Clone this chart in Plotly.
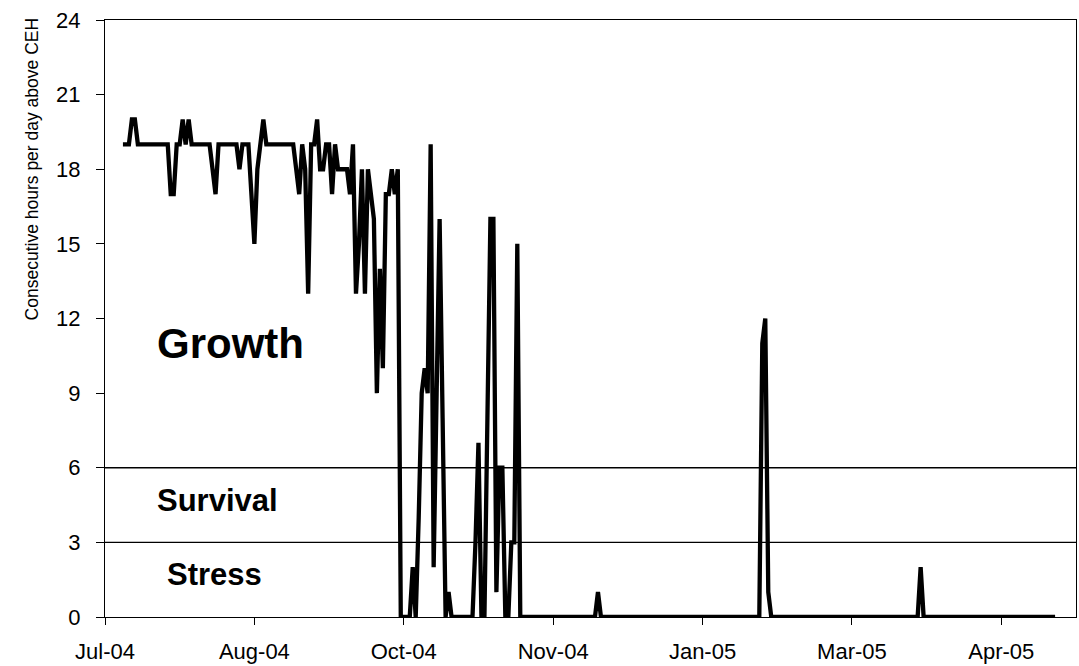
import pandas as pd
import plotly.graph_objects as go

# Daily series: consecutive hours per day above CEH, first reading 7 Jul 2004
start_date = "2004-07-07"
hours = [
    19, 19, 19, 20, 20, 19, 19, 19, 19, 19,
    19, 19, 19, 19, 19, 19, 17, 17, 19, 19,
    20, 19, 20, 19, 19, 19, 19, 19, 19, 19,
    18, 17, 19, 19, 19, 19, 19, 19, 19, 18,
    19, 19, 19, 17, 15, 18, 19, 20, 19, 19,
    19, 19, 19, 19, 19, 19, 19, 19, 18, 17,
    19, 18, 13, 19, 19, 20, 18, 18, 19, 19,
    17, 19, 18, 18, 18, 18, 17, 19, 13, 15,
    18, 13, 18, 17, 16, 9, 14, 10, 17, 17,
    18, 17, 18, 0, 0, 0, 0, 2, 0, 4,
    9, 10, 9, 19, 2, 9, 16, 8, 0, 1,
    0, 0, 0, 0, 0, 0, 0, 0, 3, 7,
    0, 0, 8, 16, 16, 1, 6, 6, 0, 0,
    3, 3, 15, 0, 0, 0, 0, 0, 0, 0,
    0, 0, 0, 0, 0, 0, 0, 0, 0, 0,
    0, 0, 0, 0, 0, 0, 0, 0, 0, 1,
    0, 0, 0, 0, 0, 0, 0, 0, 0, 0,
    0, 0, 0, 0, 0, 0, 0, 0, 0, 0,
    0, 0, 0, 0, 0, 0, 0, 0, 0, 0,
    0, 0, 0, 0, 0, 0, 0, 0, 0, 0,
    0, 0, 0, 0, 0, 0, 0, 0, 0, 0,
    0, 0, 0, 0, 11, 12, 1, 0, 0, 0,
    0, 0, 0, 0, 0, 0, 0, 0, 0, 0,
    0, 0, 0, 0, 0, 0, 0, 0, 0, 0,
    0, 0, 0, 0, 0, 0, 0, 0, 0, 0,
    0, 0, 0, 0, 0, 0, 0, 0, 0, 0,
    0, 0, 0, 0, 0, 0, 0, 2, 0, 0,
    0, 0, 0, 0, 0, 0, 0, 0, 0, 0,
    0, 0, 0, 0, 0, 0, 0, 0, 0, 0,
    0, 0, 0, 0, 0, 0, 0, 0, 0, 0,
    0, 0, 0, 0, 0, 0, 0, 0, 0, 0,
    0, 0, 0,
]
dates = pd.date_range(start_date, periods=len(hours), freq="D")

# Threshold lines and zone labels
thresholds = [3, 6]
zone_labels = ["Growth", "Survival", "Stress"]
zone_label_y = [11.0, 4.68, 1.72]
zone_label_x = [0.052, 0.052, 0.062]
zone_label_size = [42, 31, 31]

# Axis settings
x_start, x_end = "2004-07-01", "2005-05-22"
tick_step_days = 50
y_ticks = [0, 3, 6, 9, 12, 15, 18, 21, 24]
y_title = "Consecutive hours per day above CEH"

FONT = "Liberation Sans, Arial, Helvetica, sans-serif"

fig = go.Figure()
fig.add_trace(go.Scatter(
    x=dates, y=hours, mode="lines",
    line=dict(color="black", width=4.3),
    showlegend=False, hoverinfo="skip",
))

for t in thresholds:
    fig.add_shape(type="line", xref="paper", x0=0, x1=1, yref="y", y0=t, y1=t,
                  line=dict(color="black", width=1.3), layer="below")

for lab, lx, ly, ls in zip(zone_labels, zone_label_x, zone_label_y, zone_label_size):
    fig.add_annotation(text=f"<b>{lab}</b>", xref="paper", x=lx, yref="y", y=ly,
                       xanchor="left", yanchor="middle", showarrow=False,
                       font=dict(family=FONT, size=ls, color="black"))

fig.add_annotation(text=y_title, xref="paper", x=-0.075, yref="paper", y=0.75,
                   xanchor="center", yanchor="middle", textangle=-90, showarrow=False,
                   font=dict(family=FONT, size=17.5, color="black"))

fig.update_xaxes(
    type="date", range=[x_start, x_end],
    tick0=x_start, dtick=tick_step_days * 86400000, tickformat="%b-%y",
    ticks="outside", ticklen=7, tickwidth=1, tickcolor="black",
    showline=True, linecolor="black", linewidth=1, mirror=True,
    showgrid=False, zeroline=False, ticklabelstandoff=8,
    tickfont=dict(family=FONT, size=22, color="black"),
)
fig.update_yaxes(
    range=[0, 24], tickvals=y_ticks,
    ticks="outside", ticklen=8, tickwidth=1, tickcolor="black",
    showline=True, linecolor="black", linewidth=1, mirror=True,
    showgrid=False, zeroline=False, ticklabelstandoff=11,
    tickfont=dict(family=FONT, size=22, color="black"),
)
fig.update_layout(
    width=1079, height=666,
    margin=dict(l=105, r=2, t=20, b=46),
    plot_bgcolor="white", paper_bgcolor="white",
    font=dict(family=FONT, color="black"),
)
fig.write_html("out.html")
